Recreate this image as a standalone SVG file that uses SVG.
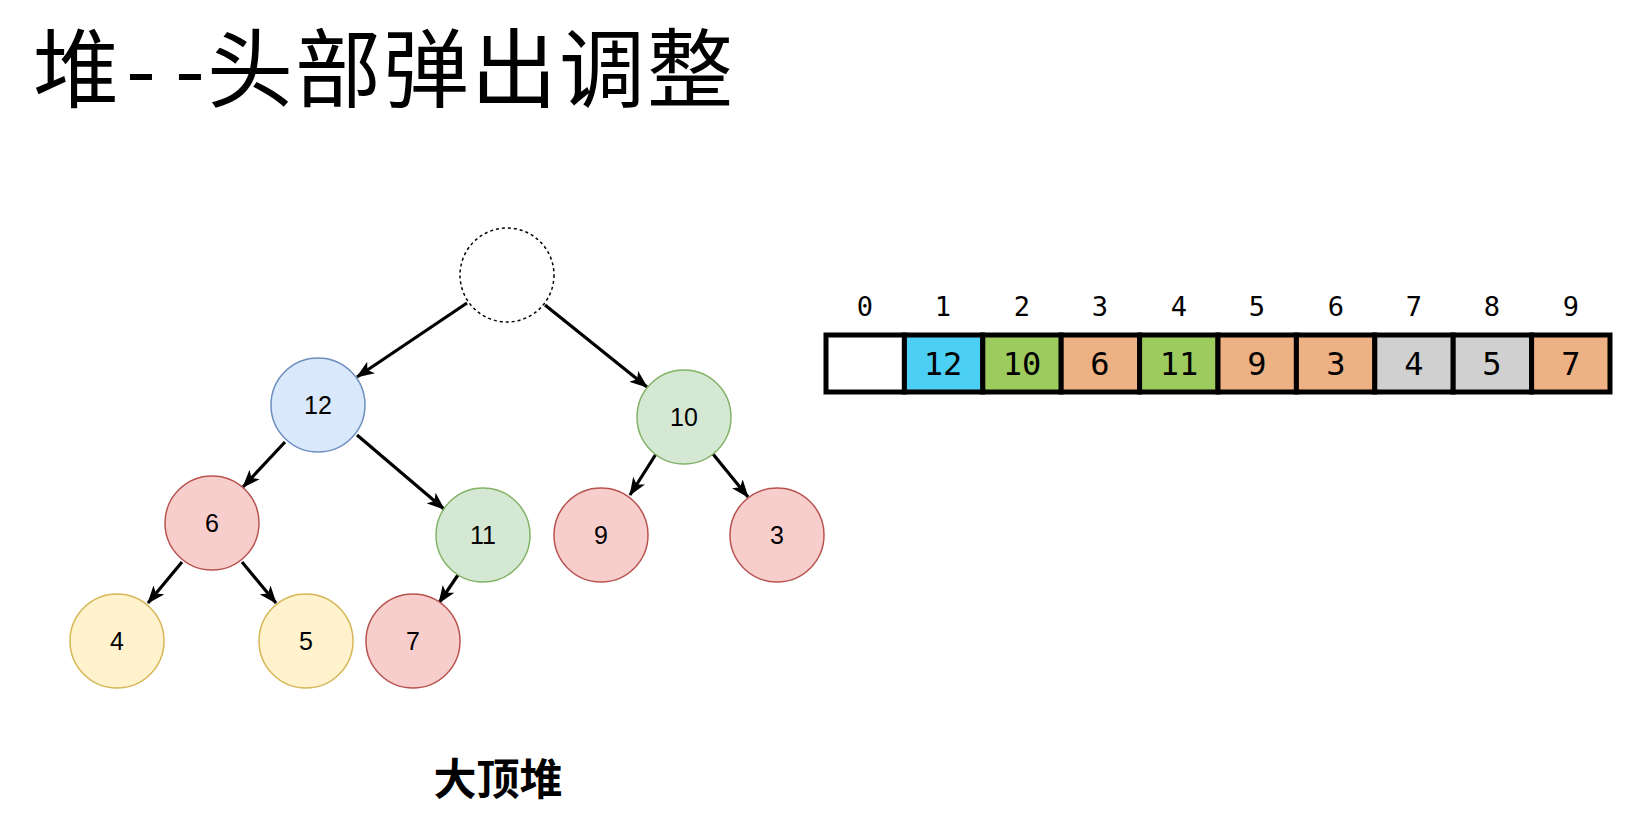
<svg xmlns="http://www.w3.org/2000/svg" width="1638" height="822" viewBox="0 0 1638 822">
<style>
.title{font-family:"Noto Sans CJK SC","Noto Sans",sans-serif;font-size:86px;fill:#000}
.cap{font-family:"Noto Sans CJK SC",sans-serif;font-size:43px;font-weight:bold;fill:#000}
.node text{font-family:"Liberation Sans",Arial,sans-serif;font-size:25px;fill:#000;text-anchor:middle}
.blue{fill:#dae8fc;stroke:#6c8ebf;stroke-width:1.5}
.green{fill:#d5e8d4;stroke:#82b366;stroke-width:1.5}
.red{fill:#f8cecc;stroke:#b85450;stroke-width:1.5}
.yellow{fill:#fff2cc;stroke:#d6b656;stroke-width:1.5}
.edge{stroke:#000;stroke-width:3.2;fill:none;marker-end:url(#arr)}
.idx{font-family:"DejaVu Sans Mono","Liberation Mono",monospace;font-size:27px;fill:#000;text-anchor:middle}
.val{font-family:"DejaVu Sans Mono","Liberation Mono",monospace;font-size:32px;fill:#000;text-anchor:middle}
.cell{stroke:#000;stroke-width:5}
</style>
<defs>
<marker id="arr" markerUnits="userSpaceOnUse" viewBox="0 0 18 14" markerWidth="18" markerHeight="14" refX="17" refY="7" orient="auto">
<path d="M0,0 L18,7 L0,14 L4.5,7 z" fill="#000"/>
</marker>
</defs>
<rect width="1638" height="822" fill="#fff"/>
<g id="title" class="title">
<text x="33" y="101">堆</text>
<text x="126" y="101">-</text>
<text x="175" y="101">-</text>
<text x="207" y="101" letter-spacing="2">头部弹出调整</text>
</g>

<g id="connectors">
<line class="edge" x1="467" y1="303" x2="357" y2="377"/>
<line class="edge" x1="545" y1="305" x2="647" y2="387"/>
<line class="edge" x1="285" y1="442" x2="243" y2="487"/>
<line class="edge" x1="357" y1="435" x2="444" y2="509"/>
<line class="edge" x1="656" y1="454" x2="630" y2="495"/>
<line class="edge" x1="713" y1="454" x2="748" y2="497"/>
<line class="edge" x1="182" y1="562" x2="148" y2="603"/>
<line class="edge" x1="242" y1="562" x2="276" y2="603"/>
<line class="edge" x1="460" y1="572" x2="439" y2="603"/>
</g>

<g id="node-root" class="node"><circle cx="507" cy="275" r="47" fill="#fff" stroke="#000" stroke-width="1.5" stroke-dasharray="3,3"/></g>
<g id="node-12" class="node"><circle class="blue" cx="318" cy="405" r="47"/><text x="318" y="414">12</text></g>
<g id="node-10" class="node"><circle class="green" cx="684" cy="417" r="47"/><text x="684" y="426">10</text></g>
<g id="node-6" class="node"><circle class="red" cx="212" cy="523" r="47"/><text x="212" y="532">6</text></g>
<g id="node-11" class="node"><circle class="green" cx="483" cy="535" r="47"/><text x="483" y="544">11</text></g>
<g id="node-9" class="node"><circle class="red" cx="601" cy="535" r="47"/><text x="601" y="544">9</text></g>
<g id="node-3" class="node"><circle class="red" cx="777" cy="535" r="47"/><text x="777" y="544">3</text></g>
<g id="node-4" class="node"><circle class="yellow" cx="117" cy="641" r="47"/><text x="117" y="650">4</text></g>
<g id="node-5" class="node"><circle class="yellow" cx="306" cy="641" r="47"/><text x="306" y="650">5</text></g>
<g id="node-7" class="node"><circle class="red" cx="413" cy="641" r="47"/><text x="413" y="650">7</text></g>

<g id="array">
<rect class="cell" x="826" y="335" width="78.4" height="57" fill="#fff"/>
<rect class="cell" x="904.4" y="335" width="78.4" height="57" fill="#4bcff5"/>
<rect class="cell" x="982.8" y="335" width="78.4" height="57" fill="#9ecb5e"/>
<rect class="cell" x="1061.2" y="335" width="78.4" height="57" fill="#eeb183"/>
<rect class="cell" x="1139.6" y="335" width="78.4" height="57" fill="#9ecb5e"/>
<rect class="cell" x="1218" y="335" width="78.4" height="57" fill="#eeb183"/>
<rect class="cell" x="1296.4" y="335" width="78.4" height="57" fill="#eeb183"/>
<rect class="cell" x="1374.8" y="335" width="78.4" height="57" fill="#d0d0d0"/>
<rect class="cell" x="1453.2" y="335" width="78.4" height="57" fill="#d0d0d0"/>
<rect class="cell" x="1531.6" y="335" width="78.4" height="57" fill="#eeb183"/>
<g class="idx">
<text x="865" y="316">0</text><text x="943" y="316">1</text><text x="1022" y="316">2</text><text x="1100" y="316">3</text><text x="1179" y="316">4</text><text x="1257" y="316">5</text><text x="1336" y="316">6</text><text x="1414" y="316">7</text><text x="1492" y="316">8</text><text x="1571" y="316">9</text>
</g>
<g class="val">
<text x="943" y="375">12</text><text x="1022" y="375">10</text><text x="1100" y="375">6</text><text x="1179" y="375">11</text><text x="1257" y="375">9</text><text x="1336" y="375">3</text><text x="1414" y="375">4</text><text x="1492" y="375">5</text><text x="1571" y="375">7</text>
</g>
</g>

<text class="cap" x="498" y="795" text-anchor="middle">大顶堆</text>
</svg>
